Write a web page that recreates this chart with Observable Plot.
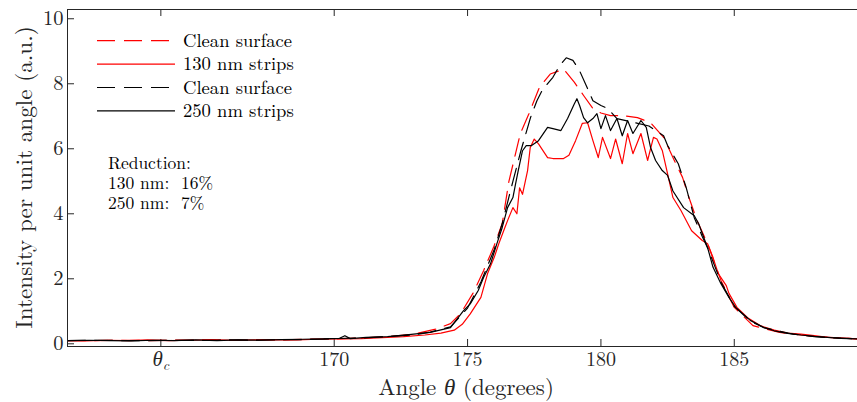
<!DOCTYPE html>
<html><head><meta charset="utf-8">
<script src="https://cdn.jsdelivr.net/npm/d3@7"></script>
<script src="https://cdn.jsdelivr.net/npm/@observablehq/plot@0.6"></script>
<style>body{margin:0;background:#fff} svg{display:block}</style>
</head><body><div id="chart"></div><script>
// ---- data ----
const cleanRedAngle = [160, 161, 162, 163, 164, 165, 166, 167, 168, 169, 170, 171, 172, 173, 173.8, 174.36, 174.74, 175.2, 175.6, 175.97, 176.3, 176.55, 176.98, 177.3, 177.7, 178.1, 178.6, 179.0, 179.35, 179.7, 180.0, 180.36, 180.8, 181.37, 181.86, 182.35, 182.7, 183.06, 183.3, 183.6, 184.0, 184.5, 185.0, 185.7, 186.2, 186.7, 187.4, 188.1, 188.9, 189.62];
const cleanRedValue = [0.1, 0.1, 0.11, 0.1, 0.11, 0.12, 0.11, 0.12, 0.12, 0.14, 0.15, 0.18, 0.22, 0.3, 0.45, 0.62, 0.93, 1.55, 2.25, 2.96, 3.7, 5.0, 6.47, 7.08, 7.9, 8.3, 8.45, 8.05, 7.64, 7.24, 7.1, 7.02, 7.02, 6.96, 6.8, 6.35, 5.73, 5.12, 4.5, 3.8, 3.08, 1.95, 1.12, 0.56, 0.45, 0.35, 0.28, 0.22, 0.18, 0.15];

const strips130Angle = [160, 160.7, 161.5, 162.3, 163, 163.8, 164.6, 165.4, 166.2, 167, 167.8, 168.6, 169.4, 170.2, 171, 171.8, 172.6, 173.4, 174.0, 174.5, 174.8, 175.1, 175.5, 175.75, 176.0, 176.17, 176.4, 176.5, 176.7, 176.85, 176.95, 177.06, 177.25, 177.35, 177.5, 177.66, 178.0, 178.2, 178.6, 178.8, 179.05, 179.3, 179.5, 179.7, 179.9, 180.06, 180.36, 180.55, 180.8, 181.0, 181.2, 181.5, 181.75, 181.97, 182.1, 182.3, 182.5, 182.7, 183.0, 183.4, 183.8, 184.0, 184.2, 184.4, 184.7, 184.8, 185.1, 185.5, 186.0, 186.5, 187.0, 187.5, 188.0, 188.5, 189.0, 189.62];
const strips130Value = [0.1, 0.09, 0.11, 0.1, 0.12, 0.1, 0.11, 0.13, 0.11, 0.12, 0.13, 0.12, 0.14, 0.15, 0.16, 0.19, 0.22, 0.27, 0.33, 0.42, 0.6, 0.92, 1.43, 2.16, 2.66, 3.08, 3.58, 3.79, 4.19, 4.0, 4.8, 4.6, 5.33, 6.04, 6.3, 6.15, 5.73, 5.7, 5.7, 5.8, 6.25, 6.78, 6.8, 6.25, 5.73, 6.35, 5.7, 6.3, 5.54, 6.47, 5.85, 6.47, 5.64, 6.35, 6.3, 5.95, 5.23, 4.5, 4.1, 3.48, 3.18, 3.08, 2.66, 2.16, 1.79, 1.55, 1.12, 0.8, 0.55, 0.42, 0.33, 0.3, 0.25, 0.2, 0.18, 0.15];

const cleanBlackAngle = [160, 161, 162, 163, 164, 165, 166, 167, 168, 169, 170, 171, 172, 173, 173.6, 174.36, 175.0, 175.5, 176.0, 176.3, 176.7, 177.0, 177.36, 177.6, 177.8, 178.2, 178.45, 178.7, 178.95, 179.2, 179.5, 179.7, 180.0, 180.25, 180.6, 181.3, 181.8, 182.35, 182.5, 182.9, 183.2, 183.5, 183.8, 184.0, 184.5, 185.0, 185.6, 186.1, 186.6, 187.2, 188.0, 188.8, 189.62];
const cleanBlackValue = [0.1, 0.11, 0.1, 0.1, 0.11, 0.1, 0.12, 0.11, 0.13, 0.13, 0.16, 0.18, 0.22, 0.28, 0.36, 0.52, 1.1, 1.9, 2.9, 3.7, 5.0, 5.94, 6.96, 7.48, 7.8, 8.2, 8.56, 8.8, 8.72, 8.4, 7.85, 7.48, 7.33, 7.24, 6.93, 6.8, 6.7, 6.4, 6.1, 5.54, 4.8, 3.88, 3.3, 2.95, 1.9, 1.15, 0.7, 0.5, 0.4, 0.3, 0.22, 0.18, 0.15];

const strips250Angle = [160, 160.8, 161.6, 162.4, 163.2, 164, 164.8, 165.6, 166.4, 167.2, 168, 168.8, 169.6, 170.2, 170.4, 170.6, 171.2, 172, 172.8, 173.6, 174.36, 174.85, 175.1, 175.4, 175.6, 175.86, 176.1, 176.3, 176.5, 176.7, 176.8, 176.9, 177.06, 177.2, 177.4, 177.66, 178.0, 178.2, 178.5, 178.75, 179.0, 179.1, 179.2, 179.35, 179.5, 179.7, 179.85, 180.0, 180.17, 180.36, 180.6, 180.8, 181.0, 181.2, 181.5, 181.7, 181.86, 182.05, 182.3, 182.5, 182.7, 183.1, 183.5, 183.66, 184.0, 184.2, 184.5, 184.8, 185.05, 185.6, 186.1, 186.5, 187.0, 187.5, 188.0, 188.5, 189.0, 189.62];
const strips250Value = [0.1, 0.11, 0.1, 0.09, 0.11, 0.1, 0.12, 0.1, 0.12, 0.11, 0.13, 0.14, 0.15, 0.17, 0.25, 0.16, 0.2, 0.22, 0.28, 0.35, 0.5, 1.02, 1.23, 1.64, 2.04, 2.46, 3.08, 3.58, 4.19, 4.5, 4.92, 5.33, 5.94, 6.1, 6.1, 6.25, 6.66, 6.62, 6.56, 6.93, 7.38, 7.54, 7.33, 6.96, 6.8, 6.93, 7.08, 6.62, 7.02, 6.56, 6.93, 6.4, 6.87, 6.47, 6.87, 6.66, 6.04, 5.64, 5.33, 5.18, 4.7, 4.19, 3.94, 3.7, 2.96, 2.36, 1.85, 1.43, 1.12, 0.72, 0.5, 0.4, 0.32, 0.27, 0.23, 0.2, 0.17, 0.15];

const seriesNames = ["Clean surface", "130 nm strips", "Clean surface", "250 nm strips"];
const xTicks = [163.5, 170, 175, 180, 185];
const xTickLabels = ["θc", "170", "175", "180", "185"];
const yTicks = [0, 2, 4, 6, 8, 10];
const annotationLines = ["Reduction:", "130 nm:  16%", "250 nm:  7%"];
const xLabel = ["Angle ", "θ", " (degrees)"];
const yLabel = "Intensity per unit angle (a.u.)";

// ---- build ----
const series = [
  {angle: cleanRedAngle, value: cleanRedValue, color: "#ff0000", dash: "18,9"},
  {angle: strips130Angle, value: strips130Value, color: "#ff0000", dash: null},
  {angle: cleanBlackAngle, value: cleanBlackValue, color: "#000000", dash: "18,9"},
  {angle: strips250Angle, value: strips250Value, color: "#000000", dash: null}
];
const rows = s => s.angle.map((a, i) => ({angle: a, value: s.value[i]}));

const W = 857, H = 402, mL = 67, mR = 0, mT = 9, mB = 56;
const xDomain = [160, 189.62], yDomain = [-0.083, 10.285];
const frameH = H - mT - mB, frameW = W - mL - mR, tick = 7;
const axisColor = "#262626";
const font = "Latin Modern Roman";

const plot = Plot.plot({
  width: W, height: H,
  marginLeft: mL, marginRight: mR, marginTop: mT, marginBottom: mB,
  x: {domain: xDomain},
  y: {domain: yDomain},
  style: {fontFamily: font, background: "white", color: axisColor},
  marks: [
    Plot.ruleX(xTicks, {insetTop: frameH - tick, stroke: axisColor}),
    Plot.ruleX(xTicks, {insetBottom: frameH - tick, stroke: axisColor}),
    Plot.ruleY(yTicks, {insetRight: frameW - tick, stroke: axisColor}),
    ...series.map(s => Plot.line(rows(s), {x: "angle", y: "value", stroke: s.color, strokeWidth: 1.2, strokeDasharray: s.dash})),
    Plot.ruleY([yDomain[0]], {stroke: axisColor}),
    Plot.ruleY([yDomain[1]], {stroke: axisColor}),
    Plot.ruleX([xDomain[0]], {stroke: axisColor}),
    Plot.axisX({ticks: xTicks, tickSize: 0, tickPadding: 5, fontSize: 20, fontFamily: font, label: null,
      tickFormat: d => xTickLabels[xTicks.indexOf(d)]}),
    Plot.axisY({ticks: yTicks, tickSize: 0, tickPadding: 4, fontSize: 20.5, fontFamily: font, label: null})
  ]
});
document.getElementById("chart").appendChild(plot);

const svg = d3.select(plot).attr("font-family", font);
// theta_c tick label with subscript
svg.selectAll('[aria-label="x-axis tick label"] text').each(function() {
  if (this.textContent === "θc") {
    const el = d3.select(this);
    el.text(null);
    el.append("tspan").attr("font-style", "italic").attr("font-size", 21).text("θ");
    el.append("tspan").attr("font-style", "italic").attr("font-size", 14).attr("dy", 4).text("c");
  }
});

const txt = sel => sel.attr("font-family", font).attr("fill", axisColor);

// axis labels
const xl = txt(svg.append("text")).attr("x", 466).attr("y", 395).attr("text-anchor", "middle").attr("font-size", 23);
xl.append("tspan").text(xLabel[0]);
xl.append("tspan").attr("font-style", "italic").text(xLabel[1]);
xl.append("tspan").text(xLabel[2]);
txt(svg.append("text")).attr("transform", `translate(32,${mT + frameH / 2}) rotate(-90)`)
  .attr("text-anchor", "middle").attr("font-size", 23.2).text(yLabel);

// legend
const lg = svg.append("g");
series.forEach((s, i) => {
  const y = 40.7 + i * 23.4;
  lg.append("line").attr("x1", 97).attr("x2", 175).attr("y1", y).attr("y2", y)
    .attr("stroke", s.color).attr("stroke-width", 1.2).attr("stroke-dasharray", s.dash);
  txt(lg.append("text")).attr("x", 183).attr("y", y + 6).attr("text-anchor", "start")
    .attr("font-size", 18.6).attr("fill", "#000").text(seriesNames[i]);
});

// annotation
annotationLines.forEach((t, i) => {
  txt(svg.append("text")).attr("x", 108).attr("y", 169 + i * 20).attr("text-anchor", "start")
    .attr("font-size", 17.5).attr("fill", "#000").style("white-space", "pre").text(t);
});
</script></body></html>
